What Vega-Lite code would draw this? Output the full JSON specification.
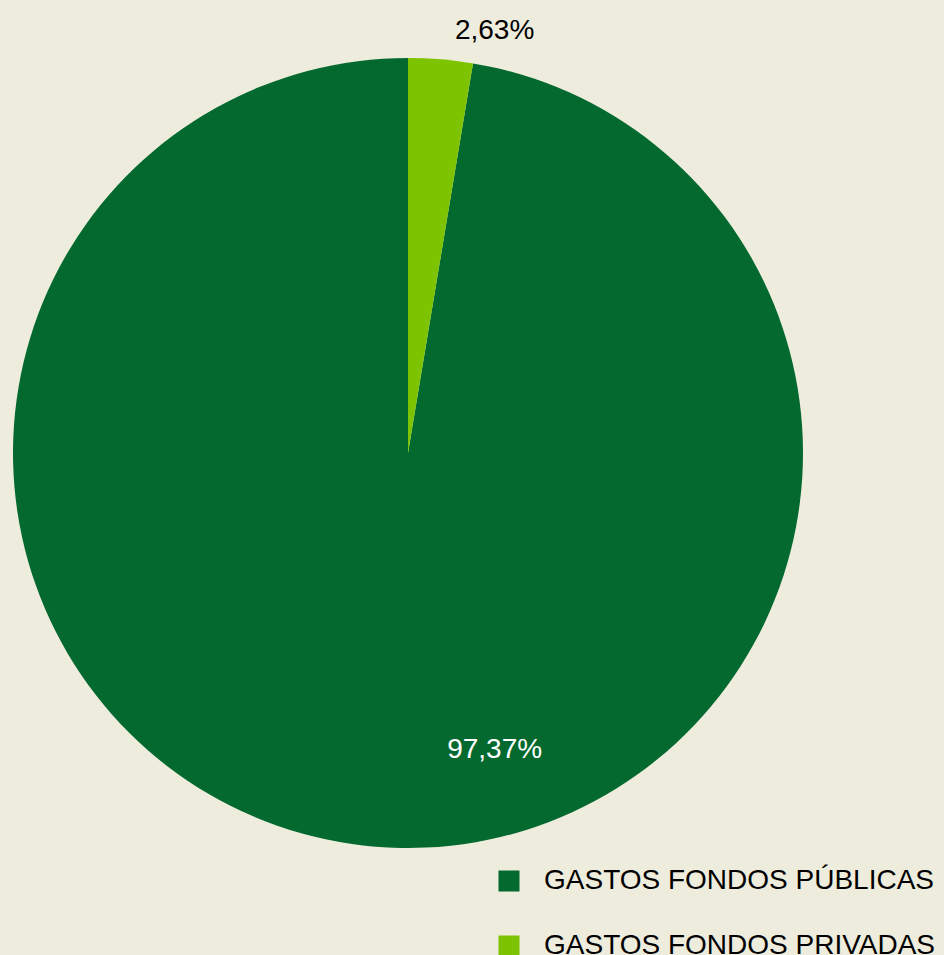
{
  "$schema": "https://vega.github.io/schema/vega-lite/v6.json",
  "autosize": {"type": "fit", "contains": "padding"},
  "width": 944,
  "height": 955,
  "padding": {"left": 13, "top": 58, "right": 141, "bottom": 107},
  "background": "#EEECDC",
  "config": {"view": {"stroke": null}, "font": "Liberation Sans"},
  "data": {"values": [
    {"categoria": "GASTOS FONDOS PÚBLICAS", "valor": 97.37, "etiqueta": "97,37%"},
    {"categoria": "GASTOS FONDOS PRIVADAS", "valor": 2.63, "etiqueta": "2,63%"}
  ]},
  "encoding": {
    "theta": {"field": "valor", "type": "quantitative", "stack": true},
    "order": {"field": "valor", "sort": "ascending"},
    "color": {
      "field": "categoria",
      "type": "nominal",
      "scale": {"domain": ["GASTOS FONDOS PÚBLICAS", "GASTOS FONDOS PRIVADAS"], "range": ["#04692F", "#7DC300"]},
      "legend": {
        "title": null,
        "orient": "none",
        "legendX": 482,
        "legendY": 809,
        "padding": 0,
        "symbolType": "square",
        "symbolSize": 441,
        "symbolStrokeWidth": 0,
        "labelFont": "Liberation Sans",
        "labelFontSize": 28,
        "labelColor": "#000000",
        "labelOffset": 21,
        "rowPadding": 37,
        "labelLimit": 500
      }
    }
  },
  "layer": [
    {"mark": {"type": "arc", "outerRadius": 395}},
    {
      "mark": {"type": "text", "radius": 432, "dx": 51, "dy": 9, "fontSize": 28, "font": "Liberation Sans", "color": "#000000"},
      "encoding": {
        "text": {"condition": {"test": "datum.valor < 50", "field": "etiqueta"}, "value": ""},
        "color": {"value": "#000000"}
      }
    },
    {
      "mark": {"type": "text", "radius": 307, "dx": 112, "dy": -9, "fontSize": 28, "font": "Liberation Sans", "color": "#FFFFFF"},
      "encoding": {
        "text": {"condition": {"test": "datum.valor >= 50", "field": "etiqueta"}, "value": ""},
        "color": {"value": "#FFFFFF"}
      }
    }
  ]
}
